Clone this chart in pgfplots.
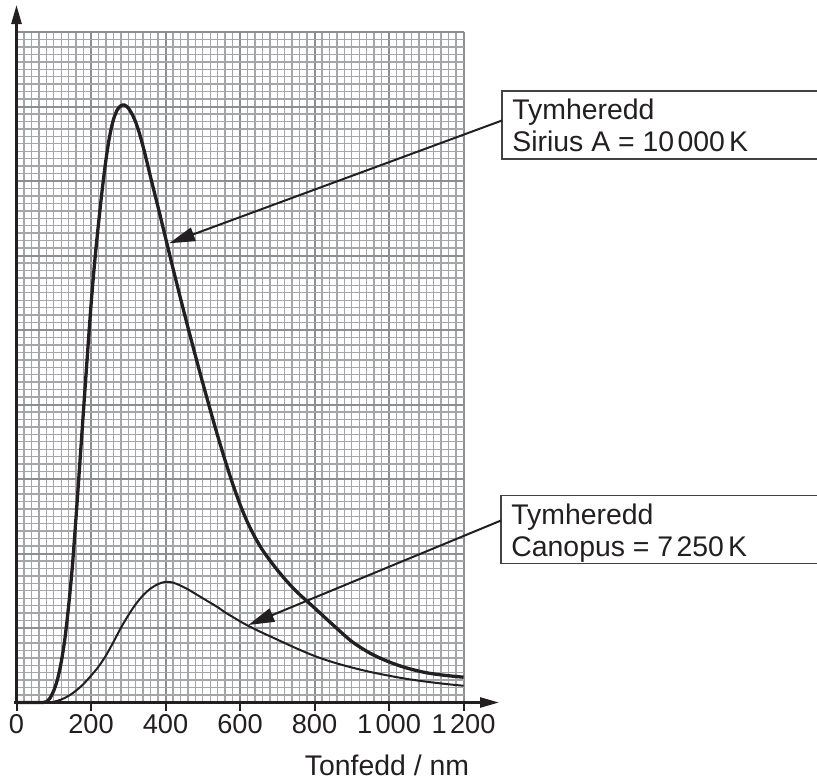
\documentclass[border=0pt]{standalone}
\usepackage{pgfplots}
\pgfplotsset{compat=1.18}
\usepackage{fontspec}
\setmainfont{Liberation Sans}
\usetikzlibrary{arrows.meta}
\definecolor{ink}{RGB}{35,31,32}
\definecolor{majgrid}{RGB}{140,142,146}
\definecolor{mingrid}{RGB}{165,166,170}
\begin{document}
\begin{tikzpicture}[x=0.5bp,y=-0.5bp]
\useasboundingbox (0,0) rectangle (817,782);
\begin{axis}[
  at={(8.25bp,-351.25bp)}, anchor=south west,
  scale only axis, width=223.5bp, height=335.25bp,
  xmin=0, xmax=1200, ymin=0, ymax=9,
  axis line style={draw=none},
  xtick={0,200,...,1200},
  xticklabels={0,200,400,600,800,{1\kern0.12em000},{1\kern0.12em200}},
  ytick={0,1,...,9}, yticklabels={},
  minor x tick num=9, minor y tick num=9,
  major tick length=0pt, minor tick length=0pt,
  grid=both,
  major grid style={majgrid, line width=1bp},
  minor grid style={mingrid, line width=0.7bp},
  xticklabel style={anchor=base, yshift=-15.25bp, font=\fontsize{13.6bp}{16bp}\selectfont, text=ink},
  clip=false,
]
% Sirius A, 10 000 K
\addplot[ink, line width=1.65bp, smooth, tension=0.5] coordinates {
(0,0) (40,0) (60,0) (70,0) (80,0.01) (90,0.06) (100,0.16) (110,0.31) (120,0.54)
(130,0.86) (140,1.30) (150,1.83) (160,2.50) (170,3.21) (180,3.93) (190,4.64)
(200,5.33) (210,5.92) (220,6.42) (230,6.88) (240,7.28) (250,7.60) (260,7.82)
(270,7.95) (280,8.01) (290,8.02) (300,7.98) (310,7.90) (320,7.79) (330,7.64)
(340,7.46) (350,7.26) (360,7.05) (380,6.65) (400,6.24) (420,5.83) (440,5.43)
(460,5.04) (480,4.66) (500,4.29) (520,3.93) (540,3.58) (560,3.25) (580,2.94)
(600,2.66) (620,2.42) (640,2.22) (660,2.05) (680,1.91) (700,1.78) (720,1.66)
(740,1.55) (760,1.45) (780,1.36) (800,1.27) (850,1.04) (900,0.82) (950,0.66)
(1000,0.545) (1050,0.46) (1100,0.40) (1150,0.365) (1200,0.34)
};
% Canopus, 7 250 K
\addplot[ink, line width=1bp, smooth, tension=0.5] coordinates {
(0,0) (40,0) (60,0) (80,0) (100,0.01) (120,0.04) (140,0.09) (160,0.16) (180,0.25)
(200,0.36) (220,0.48) (240,0.63) (260,0.81) (280,1.00) (300,1.17) (320,1.32)
(340,1.44) (360,1.53) (380,1.59) (400,1.62) (420,1.61) (440,1.57) (460,1.52)
(480,1.46) (500,1.40) (520,1.34) (540,1.28) (560,1.21) (580,1.15) (600,1.09)
(620,1.035) (650,0.96) (700,0.845) (750,0.73) (800,0.625) (850,0.54) (900,0.47)
(950,0.41) (1000,0.36) (1050,0.315) (1100,0.28) (1150,0.25) (1200,0.225)
};
\end{axis}
% axes with arrows
\draw[ink, line width=1.3bp, -{Triangle[length=9.5bp,width=5bp]}] (14,702.5) -- (499,702.5);
\draw[ink, line width=1.3bp, -{Triangle[length=9.5bp,width=5bp]}] (16.5,703.5) -- (16.5,5);
\foreach \k in {0,...,6} \draw[ink, line width=1bp] (16.5+74.5*\k,702.5) -- ++(0,8);
\node[anchor=base, inner sep=0, text=ink, font=\fontsize{14.2bp}{17bp}\selectfont] at (387,775) {Tonfedd / nm};
% label boxes
\draw[ink!85, line width=0.65bp] (840,91) -- (502,91) -- (502,159) -- (840,159);
\node[anchor=base west, inner sep=0, text=ink, font=\fontsize{14.2bp}{17bp}\selectfont] at (512,119.3) {Tymheredd};
\node[anchor=base west, inner sep=0, text=ink, font=\fontsize{14.2bp}{17bp}\selectfont] at (512,151.7) {Sirius A = 10\kern0.12em000\kern0.15em K};
\draw[ink!85, line width=0.65bp] (840,495.7) -- (501,495.7) -- (501,563.3) -- (840,563.3);
\node[anchor=base west, inner sep=0, text=ink, font=\fontsize{14.2bp}{17bp}\selectfont] at (511,524) {Tymheredd};
\node[anchor=base west, inner sep=0, text=ink, font=\fontsize{14.2bp}{17bp}\selectfont] at (511,556) {Canopus = 7\kern0.12em250\kern0.15em K};
% arrows
\draw[ink, line width=1bp, -{Triangle[length=13bp,width=7bp]}] (502,120.5) -- (169,243.3);
\draw[ink, line width=1bp, -{Triangle[length=13bp,width=7bp]}] (501,520.5) -- (248.3,625);
\end{tikzpicture}
\end{document}
